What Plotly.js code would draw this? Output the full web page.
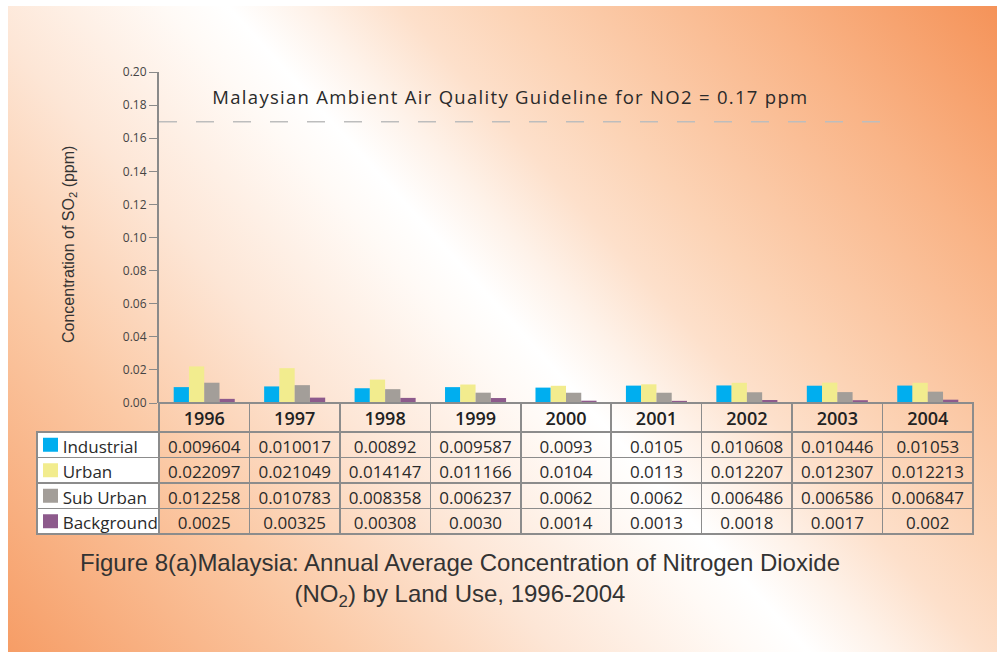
<!DOCTYPE html>
<html>
<head>
<meta charset="utf-8">
<script src="https://cdn.plot.ly/plotly-3.0.1.min.js"></script>
<style>
  html, body { margin: 0; padding: 0; background: #ffffff; }
  #wrap { position: relative; width: 997px; height: 652px; overflow: hidden; }
  #bg { position: absolute; left: 8px; top: 6px; width: 989px; height: 646px;
        background: linear-gradient(48deg, #f69d66 0%, #fbc9a5 21%, #fde6d6 35%, #fffaf6 47%, #ffffff 51%, #fef2e9 56%, #fde0cb 62%, #fcd3b5 69%, #f9b487 85%, #f59359 100%); }
  #chart { position: absolute; left: 0; top: 0; width: 997px; height: 652px; }
  .annotation[data-index="0"] text { letter-spacing: 1.3px; }
</style>
</head>
<body>
<div id="wrap"><div id="bg"></div><div id="chart"></div></div>
<script>
// ---- data ----
var years = ['1996', '1997', '1998', '1999', '2000', '2001', '2002', '2003', '2004'];
var seriesNames = ['Industrial', 'Urban', 'Sub Urban', 'Background'];
var industrial = ['0.009604', '0.010017', '0.00892', '0.009587', '0.0093', '0.0105', '0.010608', '0.010446', '0.01053'];
var urban      = ['0.022097', '0.021049', '0.014147', '0.011166', '0.0104', '0.0113', '0.012207', '0.012307', '0.012213'];
var subUrban   = ['0.012258', '0.010783', '0.008358', '0.006237', '0.0062', '0.0062', '0.006486', '0.006586', '0.006847'];
var background = ['0.0025', '0.00325', '0.00308', '0.0030', '0.0014', '0.0013', '0.0018', '0.0017', '0.002'];
var guideline = 0.17;
var yTicks = [0, 0.02, 0.04, 0.06, 0.08, 0.10, 0.12, 0.14, 0.16, 0.18, 0.20];

var seriesValues = [industrial, urban, subUrban, background];
var colors = ['#00aeef', '#f2ec8e', '#a39e99', '#8d5a8c'];

// ---- geometry (pixels -> paper) ----
var W = 997, H = 652;
function px(x) { return x / W; }
function py(y) { return 1 - y / H; }

var xLeft = 159, xRight = 973;
var yTop = 72, yZero = 403;
var legendLeft = 37;
var headerH = 29, rowH = 25.5;
var tableBottom = yZero + headerH + rowH * 4;

var traces = seriesNames.map(function (name, i) {
  return {
    type: 'bar', name: name, x: years, y: seriesValues[i],
    marker: { color: colors[i], line: { width: 0 } },
    showlegend: false, hoverinfo: 'x+y+name'
  };
});

// table: first column = legend, then one column per year
var legendCells = seriesNames.map(function (n) {
  return '\u00a0\u00a0\u00a0\u00a0' + n.replace(/ /g, '\u00a0');
});
var tableValues = [legendCells];
years.forEach(function (yr, j) {
  tableValues.push(seriesValues.map(function (s) { return s[j]; }));
});
var colW = [(xLeft - legendLeft)].concat(years.map(function () { return (xRight - xLeft) / years.length; }));
var transparent = 'rgba(0,0,0,0)';
var gridC = '#8c8c8c';

traces.push({
  type: 'table',
  domain: { x: [px(legendLeft), px(xRight)], y: [py(tableBottom + 2), py(yZero)] },
  columnwidth: colW,
  header: {
    values: [''].concat(years),
    height: headerH,
    align: 'center',
    fill: { color: [transparent].concat(years.map(function () { return transparent; })) },
    line: { color: [transparent].concat(years.map(function () { return gridC; })), width: 1.5 },
    font: { family: 'Open Sans, sans-serif', size: 18, color: '#222222', weight: 600 }
  },
  cells: {
    values: tableValues,
    height: rowH,
    align: ['left'].concat(years.map(function () { return 'center'; })),
    fill: { color: ['#ffffff'].concat(years.map(function () { return transparent; })) },
    line: { color: gridC, width: 1.5 },
    font: { family: 'Open Sans, sans-serif', size: 17, color: '#2a2a2a' }
  }
});

// legend swatches inside the table's first column
var shapes = [{
  type: 'line', xref: 'x domain', yref: 'y',
  x0: 0, x1: 0.896, y0: guideline, y1: guideline,
  line: { color: '#bdbdbd', width: 1.5, dash: '18px,19px' }
}];
seriesNames.forEach(function (n, i) {
  var cy = yZero + headerH + rowH * (i + 0.5);
  shapes.push({
    type: 'rect', xref: 'paper', yref: 'paper',
    x0: px(43), x1: px(58), y0: py(cy + 7), y1: py(cy - 7),
    fillcolor: colors[i], line: { width: 0 }
  });
});

var layout = {
  width: W, height: H,
  margin: { l: 0, r: 0, t: 0, b: 0, pad: 0 },
  paper_bgcolor: 'rgba(0,0,0,0)',
  plot_bgcolor: 'rgba(0,0,0,0)',
  barmode: 'group', bargap: 0.325, bargroupgap: 0,
  showlegend: false,
  xaxis: {
    domain: [px(xLeft), px(xRight)],
    type: 'category', range: [-0.5, years.length - 0.5],
    showticklabels: false, ticks: '', showline: false, showgrid: false, zeroline: false,
    fixedrange: true
  },
  yaxis: {
    domain: [py(yZero), py(yTop)],
    range: [0, 0.2], tickvals: yTicks, tickformat: '.2f',
    ticks: 'outside', ticklen: 8, tickwidth: 1, tickcolor: '#8a8a8a',
    showline: true, linecolor: '#8a8a8a', linewidth: 2,
    showgrid: false, zeroline: false,
    tickfont: { family: 'Open Sans, sans-serif', size: 12, color: '#444444' },
    fixedrange: true
  },
  shapes: shapes,
  annotations: [
    {
      text: 'Malaysian Ambient Air Quality Guideline for NO2 = ' + guideline.toFixed(2) + ' ppm',
      xref: 'paper', yref: 'y', x: px(510), y: 0.1853, xanchor: 'center', yanchor: 'middle',
      showarrow: false,
      font: { family: 'Open Sans, sans-serif', size: 18.5, color: '#2a2a2a' }
    },
    {
      text: 'Concentration of SO<sub>2</sub> (ppm)',
      xref: 'paper', yref: 'paper', x: px(70), y: py(245), textangle: -90,
      xanchor: 'center', yanchor: 'middle', showarrow: false,
      font: { family: 'Liberation Sans, Arial, sans-serif', size: 16, color: '#333333' }
    },
    {
      text: 'Figure 8(a)Malaysia: Annual Average Concentration of Nitrogen Dioxide<br>(NO<sub>2</sub>) by Land Use, 1996-2004',
      xref: 'paper', yref: 'paper', x: px(460), y: py(580),
      xanchor: 'center', yanchor: 'middle', align: 'center', showarrow: false,
      font: { family: 'Liberation Sans, Arial, sans-serif', size: 24, color: '#333333' }
    }
  ]
};

Plotly.newPlot('chart', traces, layout, { displayModeBar: false, staticPlot: true });
</script>
</body>
</html>
